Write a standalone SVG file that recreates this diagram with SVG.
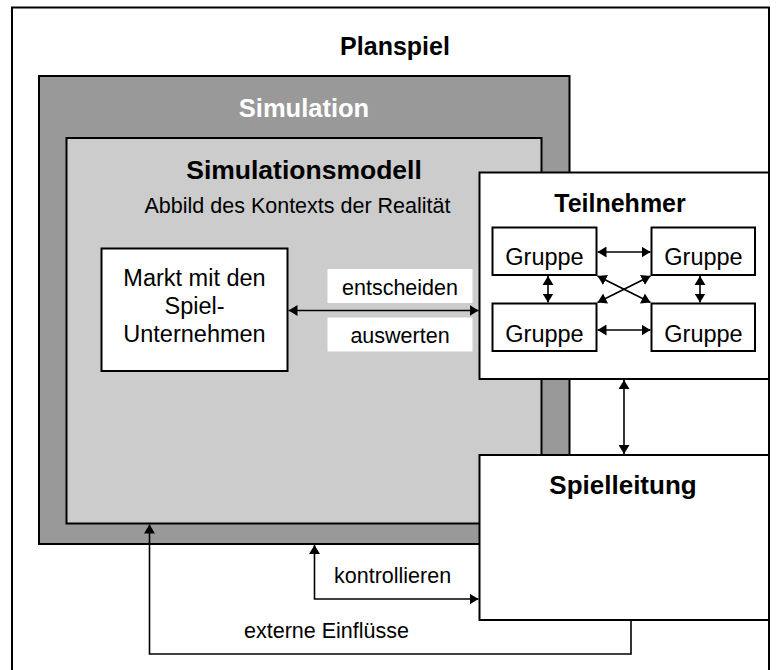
<svg xmlns="http://www.w3.org/2000/svg" width="777" height="670" viewBox="0 0 777 670">
  <style>
    .box { stroke: #000; stroke-width: 2; }
    .white { fill: #fff; }
    .line { fill: none; stroke: #000; stroke-width: 1.6; }
    .t { font-family: "Liberation Sans", Arial, sans-serif; fill: #000; }
    .b { font-weight: bold; }
    .mid { text-anchor: middle; }
  </style>
  <defs>
    <marker id="head" viewBox="0 0 9 11" refX="9" refY="5.5" markerWidth="9" markerHeight="11" markerUnits="userSpaceOnUse" orient="auto-start-reverse">
      <path d="M0,0 L9,5.5 L0,11 z" fill="#000"/>
    </marker>
  </defs>

  <rect width="777" height="670" fill="#fff"/>

  <!-- Planspiel frame -->
  <g id="planspiel">
    <rect x="12" y="7.5" width="757" height="680" fill="#fff" stroke="#000" stroke-width="2"/>
    <text class="t b mid" x="395" y="55" font-size="25">Planspiel</text>
  </g>

  <!-- Simulation -->
  <g id="simulation">
    <rect class="box" x="39" y="76" width="530.5" height="468" fill="#999999"/>
    <text class="t b mid" x="304" y="117" font-size="25.5" style="fill:#fff">Simulation</text>
  </g>

  <!-- Simulationsmodell -->
  <g id="simulationsmodell">
    <rect class="box" x="66.5" y="138" width="475" height="385.5" fill="#cccccc"/>
    <text class="t b mid" x="304" y="179" font-size="26.5">Simulationsmodell</text>
    <text class="t mid" x="297.5" y="213" font-size="21.5">Abbild des Kontexts der Realität</text>
  </g>

  <!-- Markt -->
  <g id="markt">
    <rect class="box white" x="101.5" y="248.5" width="186" height="122.5"/>
    <text class="t mid" x="194.5" y="286" font-size="23.5">Markt mit den</text>
    <text class="t mid" x="194.5" y="314" font-size="23.5">Spiel-</text>
    <text class="t mid" x="194.5" y="342" font-size="23.5">Unternehmen</text>
  </g>

  <!-- Teilnehmer -->
  <g id="teilnehmer">
    <rect class="box white" x="479.5" y="172.5" width="289.5" height="206.5"/>
    <text class="t b mid" x="620" y="212" font-size="25">Teilnehmer</text>
  </g>

  <g id="gruppe-1">
    <rect class="box white" x="492.5" y="227.5" width="104" height="47.5"/>
    <text class="t mid" x="544.5" y="265" font-size="23.5">Gruppe</text>
  </g>
  <g id="gruppe-2">
    <rect class="box white" x="651.5" y="227.5" width="103.5" height="47.5"/>
    <text class="t mid" x="703.5" y="265" font-size="23.5">Gruppe</text>
  </g>
  <g id="gruppe-3">
    <rect class="box white" x="492.5" y="303.5" width="104" height="47.5"/>
    <text class="t mid" x="544.5" y="341.5" font-size="23.5">Gruppe</text>
  </g>
  <g id="gruppe-4">
    <rect class="box white" x="651.5" y="303.5" width="103.5" height="47.5"/>
    <text class="t mid" x="703.5" y="341.5" font-size="23.5">Gruppe</text>
  </g>

  <!-- Spielleitung -->
  <g id="spielleitung">
    <rect class="box white" x="479.5" y="455" width="289.5" height="165"/>
    <text class="t b mid" x="623" y="494" font-size="26">Spielleitung</text>
  </g>

  <!-- Connectors -->
  <g id="connectors">
    <!-- entscheiden / auswerten -->
    <rect x="327.5" y="269" width="145" height="34" fill="#fff"/>
    <rect x="327.5" y="317.5" width="145" height="34" fill="#fff"/>
    <text class="t mid" x="400" y="295" font-size="21.5">entscheiden</text>
    <text class="t mid" x="400" y="343" font-size="21.5">auswerten</text>
    <line class="line" x1="288.5" y1="310.5" x2="478.5" y2="310.5" marker-start="url(#head)" marker-end="url(#head)"/>

    <!-- between groups -->
    <line class="line" x1="597.5" y1="252" x2="650.5" y2="252" marker-start="url(#head)" marker-end="url(#head)"/>
    <line class="line" x1="597.5" y1="330" x2="650.5" y2="330" marker-start="url(#head)" marker-end="url(#head)"/>
    <line class="line" x1="548" y1="276" x2="548" y2="302.5" marker-start="url(#head)" marker-end="url(#head)"/>
    <line class="line" x1="700" y1="276" x2="700" y2="302.5" marker-start="url(#head)" marker-end="url(#head)"/>
    <line class="line" x1="597.5" y1="276" x2="650.5" y2="302.5" marker-start="url(#head)" marker-end="url(#head)"/>
    <line class="line" x1="597.5" y1="302.5" x2="650.5" y2="276" marker-start="url(#head)" marker-end="url(#head)"/>

    <!-- Teilnehmer / Spielleitung -->
    <line class="line" x1="624" y1="380" x2="624" y2="454" marker-start="url(#head)" marker-end="url(#head)"/>

    <!-- kontrollieren -->
    <polyline class="line" points="314.5,545 314.5,599 478.5,599" marker-start="url(#head)" marker-end="url(#head)"/>
    <text class="t" x="334" y="583" font-size="21.5">kontrollieren</text>

    <!-- externe Einflüsse -->
    <polyline class="line" points="631,620 631,654 149.5,654 149.5,524.5" marker-end="url(#head)"/>
    <text class="t" x="244" y="638" font-size="21.5">externe Einflüsse</text>
  </g>
</svg>
